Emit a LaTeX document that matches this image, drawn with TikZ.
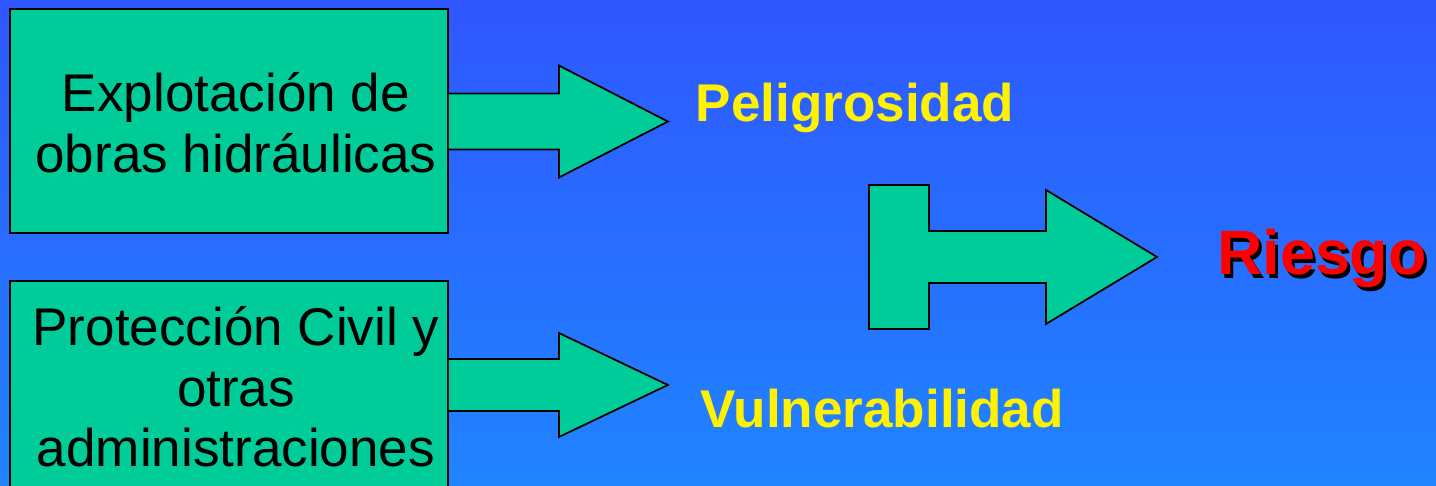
\documentclass[tikz,border=0pt]{standalone}
\usepackage{fontspec}
\setmainfont{Liberation Sans}
\usetikzlibrary{positioning}

\definecolor{BgTop}{RGB}{47,87,255}
\definecolor{BgBottom}{RGB}{32,132,255}
\definecolor{Verde}{RGB}{0,204,153}

\begin{document}
\begin{tikzpicture}
[
x=0.02cm, y=-0.02cm,
Box/.style={rectangle, draw=black, fill=Verde, line width=1pt, inner sep=0pt},
BoxText/.style={align=center, inner sep=0pt, font=\fontsize{30.2}{34.5}\selectfont},
BlockArrow/.style={draw=black, fill=Verde, line width=1pt, line join=miter},
Label/.style={anchor=base, inner sep=0pt, text=yellow, font=\fontsize{30.2}{34}\selectfont\bfseries},
Result/.style={anchor=base, inner sep=0pt, font=\fontsize{35.7}{40}\selectfont\bfseries},
]

% background
\shade[top color=BgTop, bottom color=BgBottom] (0,0) rectangle (1436,486);
\useasboundingbox (0,0) rectangle (1436,486);
\clip (0,0) rectangle (1436,486);

% boxes
\node[Box, minimum width=438*0.02cm, minimum height=224*0.02cm] (obras) at (229,121) {};
\node[Box, minimum width=438*0.02cm, minimum height=224*0.02cm] (proteccion) at (229,393) {};

\node[BoxText] (obrastxt) at (236,123) {Explotación de\\obras hidráulicas};
\node[BoxText] (protecciontxt) at (236,387) {Protección Civil y\\otras\\administraciones};

% block arrows, open on the box side
\draw[BlockArrow] ([yshift=-0.3pt]obras.east) ++(0,-28) -- ++(110,0) -- ++(0,-28)
    -- ++(109,56) -- ++(-109,56) -- ++(0,-28) -- ++(-110,0);
\draw[BlockArrow] (proteccion.east) ++(0,-34) -- ++(110,0) -- ++(0,-26)
    -- ++(109,52) -- ++(-109,52) -- ++(0,-26) -- ++(-110,0);

% labels
\node[Label] (peligro) at (855,122) {Peligrosidad};
\node[Label] (vulner) at (882,427) {Vulnerabilidad};

% T arrow
\draw[BlockArrow] (869,185) -- (929,185) -- (929,231) -- (1046,231) -- (1046,190)
    -- (1157,257) -- (1046,324) -- (1046,283) -- (929,283) -- (929,329) -- (869,329) -- cycle;

\node[Result, text=black] (riesgosombra) at (1325,278) {Riesgo};
\node[Result, text=red] (riesgo) at (1322,275) {Riesgo};

\end{tikzpicture}
\end{document}
